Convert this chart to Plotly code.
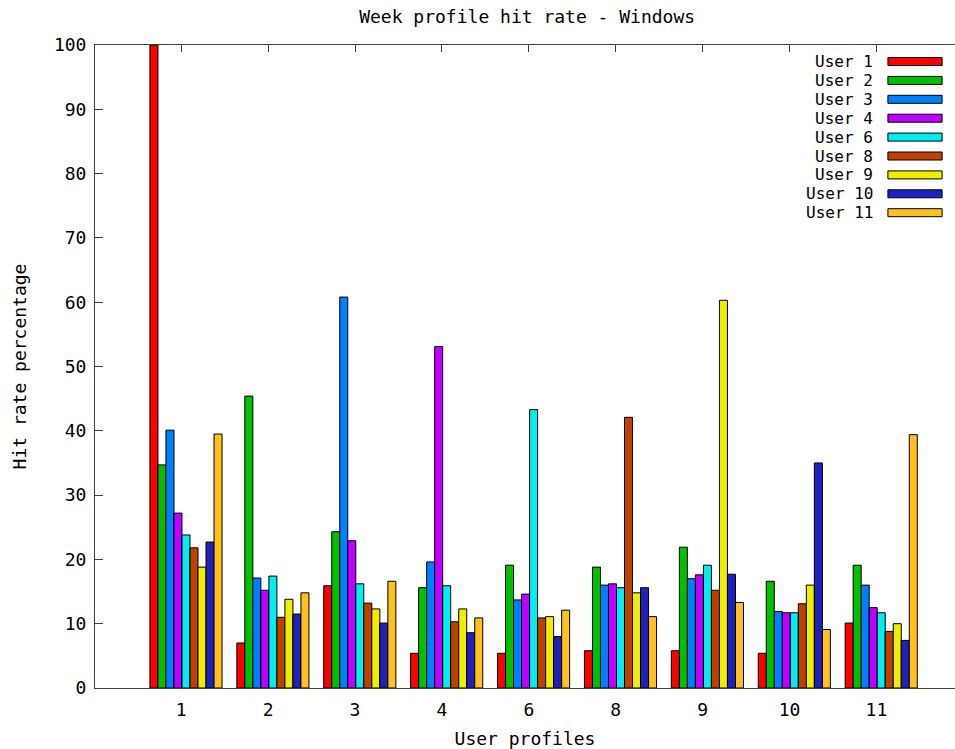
import plotly.graph_objects as go

# ---- data ----
profiles = ["1", "2", "3", "4", "6", "8", "9", "10", "11"]
series_names = ["User 1", "User 2", "User 3", "User 4", "User 6",
                "User 8", "User 9", "User 10", "User 11"]
user1 = [100, 7.0, 15.9, 5.4, 5.4, 5.8, 5.8, 5.4, 10.1]
user2 = [34.7, 45.4, 24.3, 15.6, 19.1, 18.8, 21.9, 16.6, 19.1]
user3 = [40.1, 17.1, 60.8, 19.6, 13.7, 16.0, 17.0, 11.9, 16.0]
user4 = [27.2, 15.2, 22.9, 53.1, 14.6, 16.2, 17.6, 11.7, 12.5]
user6 = [23.8, 17.4, 16.2, 15.9, 43.3, 15.6, 19.1, 11.7, 11.7]
user8 = [21.8, 11.0, 13.2, 10.3, 10.9, 42.1, 15.2, 13.1, 8.8]
user9 = [18.8, 13.8, 12.3, 12.3, 11.1, 14.8, 60.3, 16.0, 10.0]
user10 = [22.7, 11.5, 10.1, 8.6, 8.0, 15.6, 17.7, 35.0, 7.4]
user11 = [39.5, 14.8, 16.6, 10.9, 12.1, 11.1, 13.3, 9.1, 39.4]
y_ticks = [0, 10, 20, 30, 40, 50, 60, 70, 80, 90, 100]

# ---- styles ----
colors = ["#ff0000", "#00c000", "#0080ff", "#c000ff", "#00eeee",
          "#c04000", "#eeee00", "#2020c0", "#ffc020"]
series_values = [user1, user2, user3, user4, user6, user8, user9, user10, user11]
FONT = "DejaVu Sans Mono"
AXIS_COLOR = "#404040"
TICK_SHIFT = -0.055

positions = list(range(len(profiles)))

fig = go.Figure()
for name, vals, col in zip(series_names, series_values, colors):
    fig.add_trace(go.Bar(
        x=positions, y=vals, name=name,
        marker=dict(color=col, line=dict(color="#000000", width=1)),
        showlegend=False,
    ))

# custom legend: right-aligned label followed by a colour sample
ann = []
shapes = []
plot_h = 643.0
for k, (name, col) in enumerate(zip(series_names, colors)):
    yc = 61.5 + 18.9 * k
    yp = (688 - yc) / plot_h
    ann.append(dict(
        x=0.906, y=yp, xref="paper", yref="paper", text=name,
        showarrow=False, xanchor="right", yanchor="middle", borderpad=0,
        font=dict(family=FONT, size=16, color="#000000"),
    ))
    shapes.append(dict(
        type="rect", xref="paper", yref="paper",
        x0=0.922, x1=0.985, y0=yp - 4 / plot_h, y1=yp + 4 / plot_h,
        fillcolor=col, line=dict(color="#000000", width=1),
    ))

fig.update_layout(
    width=955, height=749,
    margin=dict(l=95, r=0, t=45, b=61),
    paper_bgcolor="white", plot_bgcolor="white",
    barmode="group", bargap=0.17, bargroupgap=0,
    title=dict(text="Week profile hit rate - Windows", x=0.552, xanchor="center",
               y=0.978, yanchor="middle", font=dict(family=FONT, size=18, color="#000000")),
    annotations=ann, shapes=shapes,
    xaxis=dict(
        range=[-1.047, 8.849], tickvals=[p + TICK_SHIFT for p in positions],
        ticktext=profiles, ticks="inside", ticklen=7, tickcolor=AXIS_COLOR,
        showline=True, linecolor=AXIS_COLOR, linewidth=1, mirror="ticks",
        showgrid=False, zeroline=False, layer="below traces",
        ticklabelstandoff=5,
        tickfont=dict(family=FONT, size=18, color="#000000"),
        title=dict(text="User profiles", standoff=14,
                   font=dict(family=FONT, size=18, color="#000000")),
    ),
    yaxis=dict(
        range=[0, 100], tickvals=y_ticks, ticks="inside", ticklen=8,
        tickcolor=AXIS_COLOR, showline=True, linecolor=AXIS_COLOR, linewidth=1,
        mirror=False, showgrid=False, zeroline=False,
        ticklabelstandoff=4,
        tickfont=dict(family=FONT, size=18, color="#000000"),
        title=dict(text="Hit rate percentage", standoff=22,
                   font=dict(family=FONT, size=18, color="#000000")),
    ),
)

fig.write_html("out.html")
